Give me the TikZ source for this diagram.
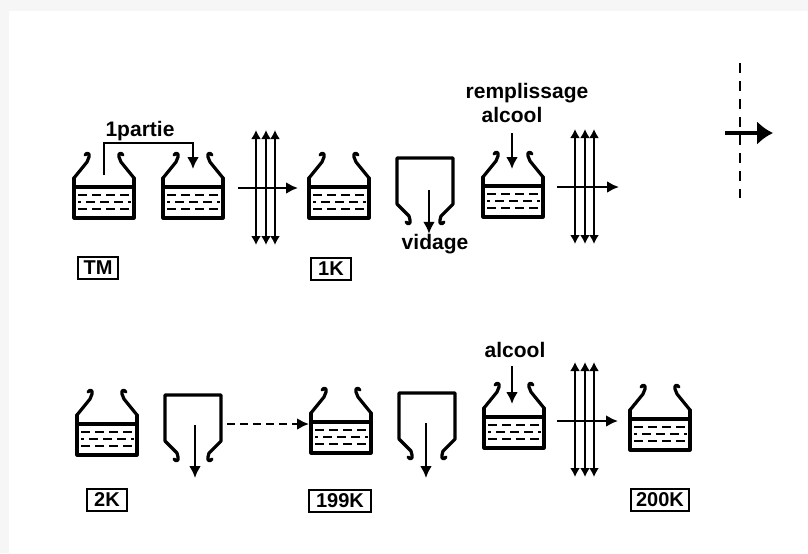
\documentclass[tikz,border=0pt]{standalone}
\usepackage{fontspec}
\setmainfont{Liberation Sans}
\usetikzlibrary{arrows.meta}

\tikzset{
  wall/.style={line width=1.6pt, line join=round, line cap=round},
  liquid/.style={line width=1.4pt, dash pattern=on 4.5pt off 2.5pt},
  flow/.style={line width=1.3pt, -{Latex[length=6pt,width=6pt]}},
  sieve/.style={line width=1.3pt, {Latex[length=4.5pt,width=5pt]}-{Latex[length=4.5pt,width=5pt]}},
  txt/.style={font=\bfseries\fontsize{10.5}{12}\selectfont, inner sep=0pt},
  tag/.style={draw, line width=1.4pt, font=\bfseries\fontsize{10}{11}\selectfont,
    inner xsep=2.5pt, inner ysep=0pt, minimum height=11pt, minimum width=20pt},
  % tank: origin at bottom centre
  pics/tank/.style={code={
    \draw[wall] (-30,-40) -- (-30,0) -- (30,0) -- (30,-40);
    \draw[wall] (-30,-31) -- (30,-31);
    \draw[wall] (-30,-40) -- (-17,-56) -- (-15,-61)
      .. controls (-14,-65) and (-17,-66) .. (-19,-63);
    \draw[wall] (30,-40) -- (17,-56) -- (15,-61)
      .. controls (14,-65) and (17,-66) .. (19,-63);
    \draw[liquid] (-26,-23) -- (27,-23);
    \draw[liquid, dash phase=3pt] (-26,-16) -- (27,-16);
    \draw[liquid] (-26,-9) -- (27,-9);
  }},
  % hopper: origin at top centre
  pics/hopper/.style={code={
    \draw[wall] (-19,64) .. controls (-17,67) and (-14,66) .. (-15,62)
      -- (-16,58) -- (-28,46) -- (-28,0)
      -- (28,0) -- (28,46) -- (16,58) -- (15,62)
      .. controls (14,66) and (17,67) .. (19,64);
  }},
  % filter: origin at the crossing
  pics/filter/.style={code={
    \foreach \dx in {-10,0,9}
      \draw[sieve] (\dx,-58) -- (\dx,57);
  }}
}

\begin{document}
\begin{tikzpicture}[x=0.5pt, y=-0.5pt]

    % Page and shadow
    \useasboundingbox (0,0) rectangle (808,553);
    \fill[gray!7] (0,0) rectangle (808,553);
    \fill[white] (9,11) rectangle (808,553);

    % First row: tanks, hoppers and filters
    \pic at (104,218) {tank};
    \pic at (193,218) {tank};
    \pic at (266,188) {filter};
    \pic at (339,218) {tank};
    \pic at (425,158) {hopper};
    \pic at (513,217) {tank};
    \pic at (585,187) {filter};

    % Transfer of one part
    \node[txt] (partie) at (140,131) {1partie};
    \coordinate (pfrom) at (104,175);
    \coordinate (pto) at (193,169);
    \draw[flow] (pfrom) -- (104,143) -- (193,143) -- (pto);

    % Flow arrows, first row
    \coordinate (f1in) at (238,188);
    \coordinate (f1out) at (298,188);
    \draw[flow] (f1in) -- (f1out);
    \coordinate (f2in) at (557,187);
    \coordinate (f2out) at (619,187);
    \draw[flow] (f2in) -- (f2out);

    % Emptying
    \node[txt] (vid) at (435,244) {vidage};
    \coordinate (v1top) at (429,190);
    \draw[flow] (v1top) -- (vid.north -| v1top);

    % Filling with alcohol
    \node[txt] (remp) at (527,93) {remplissage};
    \node[txt] (alc1) at (512,115) {alcool};
    \coordinate (a1end) at (512,169);
    \draw[flow] (alc1.south) ++(0,10) -- (a1end);

    % Section mark on the right
    \coordinate (cuttop) at (740,63);
    \coordinate (cutbot) at (740,198);
    \draw[line width=1.4pt, dash pattern=on 5pt off 4pt] (cuttop) -- (cutbot);
    \coordinate (bigin) at (725,133);
    \coordinate (bigout) at (773,133);
    \draw[line width=2.2pt, -{Latex[length=8pt,width=12pt]}] (bigin) -- (bigout);

    % Labels, first row
    \node[tag] (tm) at (98,268) {TM};
    \node[tag] (k1) at (331,269) {1K};

    % Second row: tanks, hoppers and filter
    \pic at (107,455) {tank};
    \pic at (193,395) {hopper};
    \pic at (341,453) {tank};
    \pic at (427,393) {hopper};
    \pic at (514,448) {tank};
    \pic at (585,420) {filter};
    \pic at (660,450) {tank};

    % Emptying, second row
    \coordinate (v2top) at (195,425);
    \coordinate (v2end) at (195,478);
    \draw[flow] (v2top) -- (v2end);
    \coordinate (v3top) at (426,423);
    \coordinate (v3end) at (426,478);
    \draw[flow] (v3top) -- (v3end);

    % Repeated steps
    \coordinate (repin) at (227,424);
    \coordinate (repout) at (309,424);
    \draw[flow, dash pattern=on 4pt off 2.5pt] (repin) -- (repout);

    % Alcohol, second row
    \node[txt] (alc2) at (515,350) {alcool};
    \coordinate (a2end) at (512,404);
    \draw[flow] (alc2.south) ++(-3,8) -- (a2end);

    % Flow arrow, second row
    \coordinate (f3in) at (557,421);
    \coordinate (f3out) at (618,421);
    \draw[flow] (f3in) -- (f3out);

    % Labels, second row
    \node[tag] (k2) at (107,500) {2K};
    \node[tag, minimum width=31pt] (k199) at (340,501) {199K};
    \node[tag, minimum width=29pt] (k200) at (660,500) {200K};
\end{tikzpicture}
\end{document}
